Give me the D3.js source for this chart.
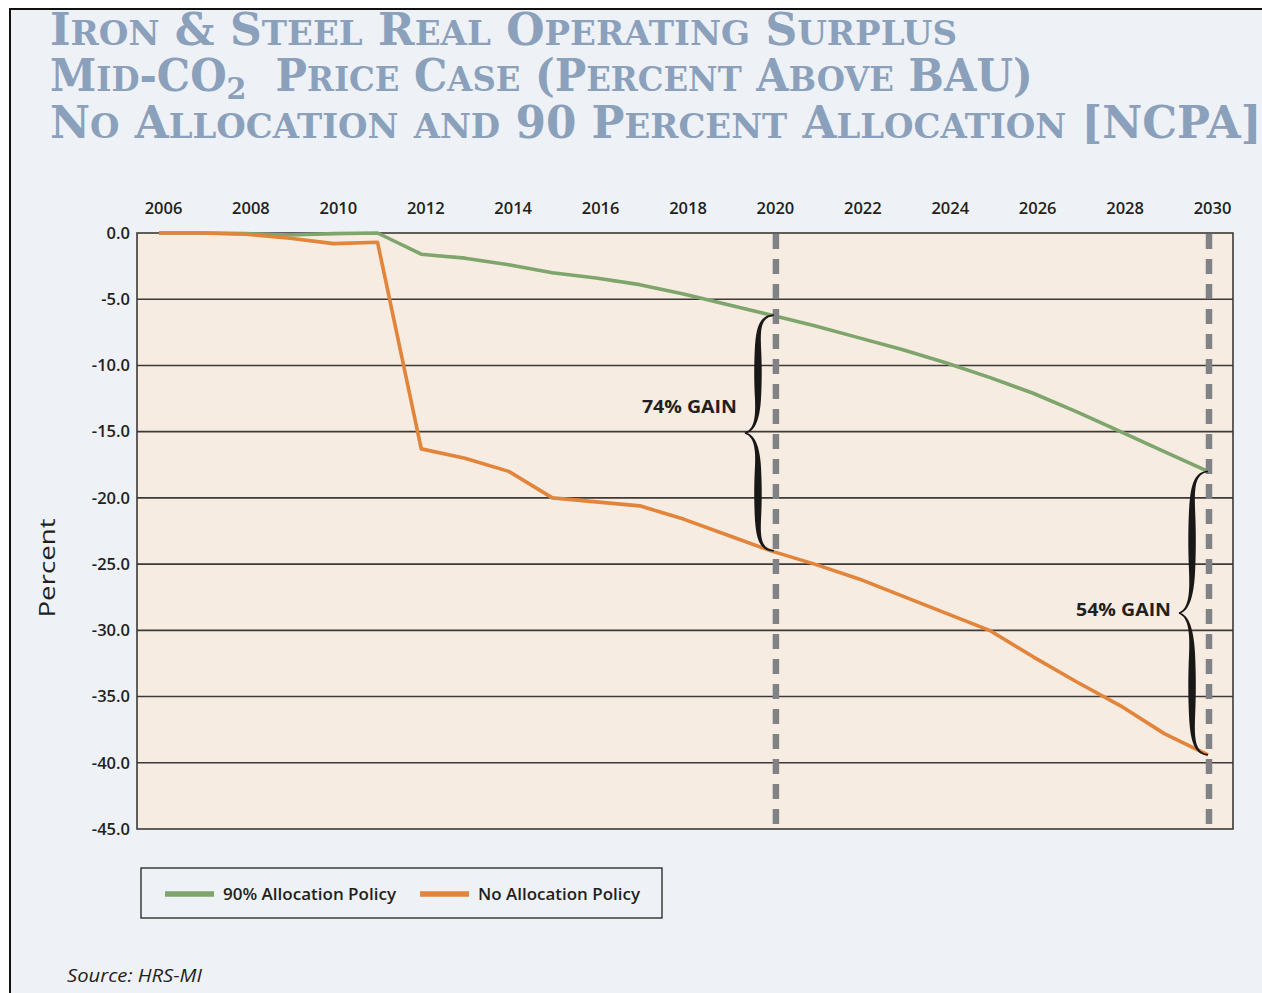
<!DOCTYPE html>
<html><head><meta charset="utf-8">
<script src="https://cdn.jsdelivr.net/npm/d3@7"></script>
<style>html,body{margin:0;padding:0;background:#fff;}svg{display:block}</style>
</head><body>
<svg id="chart" width="1262" height="993"></svg>
<script>
// ---------------- data ----------------
const years = [2006,2007,2008,2009,2010,2011,2012,2013,2014,2015,2016,2017,2018,2019,2020,2021,2022,2023,2024,2025,2026,2027,2028,2029,2030];
const alloc90 = [0,0,-0.05,-0.15,-0.05,0,-1.6,-1.9,-2.4,-3.0,-3.4,-3.9,-4.6,-5.4,-6.2,-7.0,-7.9,-8.8,-9.8,-10.9,-12.1,-13.5,-15.0,-16.5,-18.0];
const noAlloc = [0,0,-0.1,-0.4,-0.8,-0.7,-16.3,-17.0,-18.0,-20.0,-20.3,-20.6,-21.6,-22.8,-24.0,-25.0,-26.1,-27.4,-28.7,-30.0,-32.0,-33.9,-35.7,-37.8,-39.4];
const xTicks = [2006,2008,2010,2012,2014,2016,2018,2020,2022,2024,2026,2028,2030];
const yTicks = [0,-5,-10,-15,-20,-25,-30,-35,-40,-45];
const markerYears = [2020, 2030];
const gainLabels = ["74% GAIN", "54% GAIN"];
const seriesNames = ["90% Allocation Policy", "No Allocation Policy"];
const titleLines = ["Iron & Steel Real Operating Surplus", "Mid-CO|2|  Price Case (Percent Above BAU)", "No Allocation and 90 Percent Allocation [NCPA]"];
const sourceText = "Source: HRS-MI";

// ---------------- setup ----------------
const svg = d3.select("#chart");
const W = 1262, H = 993;
const C = { bg:"#eef2f7", plot:"#f7ece2", ink:"#231f20", grid:"#3d3937", green:"#7ea56c", orange:"#e2843a", dash:"#808285", title:"#8ba0bb" };
const sans = "'Open Sans', 'Noto Sans', sans-serif";

svg.append("rect").attr("width", W).attr("height", H).attr("fill", "#fff");
svg.append("rect").attr("x", 10).attr("y", 9).attr("width", W + 20).attr("height", H + 20)
   .attr("fill", C.bg).attr("stroke", "#111").attr("stroke-width", 2);

// ---------------- title ----------------
const titleBaselines = [45, 91, 138];
const titleWidths = [907, 983, 1212];
titleLines.forEach((line, i) => {
  const t = svg.append("text").attr("x", 0).attr("y", 0)
    .attr("fill", C.title).attr("font-family", "'DejaVu Serif', serif").attr("font-weight", "bold")
    .style("white-space", "pre");
  const parts = line.split("|");
  parts.forEach((p, pi) => {
    if (pi === 1) { // subscript
      t.append("tspan").attr("font-size", 30).attr("dy", 8).text(p);
      return;
    }
    let runs = [];
    for (const ch of p) {
      const small = ch !== ch.toUpperCase();
      if (runs.length && runs[runs.length-1].small === small) runs[runs.length-1].s += ch;
      else runs.push({small, s: ch});
    }
    runs.forEach((r, ri) => {
      const ts = t.append("tspan").attr("font-size", r.small ? 34 : 44).text(r.s.toUpperCase());
      if (pi === 2 && ri === 0) ts.attr("dy", -8);
    });
  });
  const natural = t.node().getComputedTextLength();
  t.attr("transform", `translate(50,${titleBaselines[i]}) scale(${titleWidths[i] / natural},1)`);
});

// ---------------- scales ----------------
const plot = { left: 137, right: 1233, top: 233, bottom: 829 };
const x = d3.scaleLinear().domain([2006, 2030]).range([159, 1208]);
const y = d3.scaleLinear().domain([0, -45]).range([plot.top, plot.bottom]);

svg.append("rect").attr("x", plot.left).attr("y", plot.top)
  .attr("width", plot.right - plot.left).attr("height", plot.bottom - plot.top).attr("fill", C.plot);

// gridlines
svg.append("g").selectAll("line").data(yTicks.filter(d => d !== 0 && d !== -45)).join("line")
  .attr("x1", plot.left).attr("x2", plot.right).attr("y1", d => y(d)).attr("y2", d => y(d))
  .attr("stroke", C.grid).attr("stroke-width", 1.6);

svg.append("rect").attr("x", plot.left).attr("y", plot.top)
  .attr("width", plot.right - plot.left).attr("height", plot.bottom - plot.top)
  .attr("fill", "none").attr("stroke", C.grid).attr("stroke-width", 1.6);

// axes
const gx = svg.append("g").attr("transform", `translate(0,${plot.top})`)
  .call(d3.axisTop(x).tickValues(xTicks).tickSize(0).tickPadding(19).tickFormat(d3.format("d")));
gx.select(".domain").remove();
gx.selectAll("text").attr("dx", 4).attr("fill", C.ink).attr("font-family", sans)
  .attr("font-size", 16.5).attr("font-weight", 600);

const gy = svg.append("g").attr("transform", `translate(${plot.left},0)`)
  .call(d3.axisLeft(y).tickValues(yTicks).tickSize(0).tickPadding(7).tickFormat(d => d.toFixed(1)));
gy.select(".domain").remove();
gy.selectAll("text").attr("fill", C.ink).attr("font-family", sans)
  .attr("font-size", 16.5).attr("font-weight", 600);

svg.append("text").attr("transform", "translate(55,568) rotate(-90)")
  .attr("text-anchor", "middle").attr("fill", C.ink).attr("font-family", sans)
  .attr("font-size", 22).attr("textLength", 99).attr("lengthAdjust", "spacingAndGlyphs").text("Percent");

// ---------------- lines ----------------
const line = d3.line().x((d, i) => x(years[i])).y(d => y(d));
svg.append("path").attr("d", line(alloc90)).attr("fill", "none").attr("stroke", C.green)
  .attr("stroke-width", 3.6).attr("stroke-linejoin", "round");
svg.append("path").attr("d", line(noAlloc)).attr("fill", "none").attr("stroke", C.orange)
  .attr("stroke-width", 3.6).attr("stroke-linejoin", "round");

// dashed marker lines
svg.append("g").selectAll("line").data(markerYears).join("line")
  .attr("x1", d => x(d) + (d === 2020 ? 5 : 1)).attr("x2", d => x(d) + (d === 2020 ? 5 : 1))
  .attr("y1", plot.top + 1).attr("y2", plot.bottom)
  .attr("stroke", C.dash).attr("stroke-width", 6.5).attr("stroke-dasharray", "15,10");

// ---------------- braces ----------------
function cubic(p0, p1, p2, p3, n) {
  const pts = [];
  for (let k = 0; k <= n; k++) {
    const t = k / n, u = 1 - t;
    pts.push([u*u*u*p0[0] + 3*u*u*t*p1[0] + 3*u*t*t*p2[0] + t*t*t*p3[0],
              u*u*u*p0[1] + 3*u*u*t*p1[1] + 3*u*t*t*p2[1] + t*t*t*p3[1]]);
  }
  return pts;
}
function braceHalf(xe, y0, y1, w) {
  const h = y1 - y0, xs = xe - 0.55 * w, xt = xe - w;
  let pts = cubic([xe, y0], [xs + 0.05 * w, y0 + 0.01 * h], [xs, y0 + 0.12 * h], [xs, y0 + 0.3 * h], 20);
  pts = pts.concat(cubic([xs, y0 + 0.3 * h], [xs, y0 + 0.5 * h], [xs, y0 + 0.55 * h], [xs, y0 + 0.7 * h], 12).slice(1));
  pts = pts.concat(cubic([xs, y0 + 0.7 * h], [xs, y0 + 0.9 * h], [xs - 0.15 * w, y1 - 0.02 * h], [xt, y1], 20).slice(1));
  const L = [0];
  for (let k = 1; k < pts.length; k++) L.push(L[k-1] + Math.hypot(pts[k][0]-pts[k-1][0], pts[k][1]-pts[k-1][1]));
  const total = L[L.length-1];
  const left = [], right = [];
  pts.forEach((p, k) => {
    const a = pts[Math.max(0, k-1)], b = pts[Math.min(pts.length-1, k+1)];
    let dx = b[0]-a[0], dy = b[1]-a[1]; const len = Math.hypot(dx, dy) || 1; dx /= len; dy /= len;
    const s = L[k] / total;
    const th = 1.5 + 6.0 * Math.pow(Math.sin(Math.PI * s), 1.3);
    left.push([p[0] - dy * th / 2, p[1] + dx * th / 2]);
    right.push([p[0] + dy * th / 2, p[1] - dx * th / 2]);
  });
  return left.concat(right.reverse());
}
const polyLine = d3.line().curve(d3.curveLinearClosed);
const gainIdx = markerYears.map(yr => years.indexOf(yr));
const labelDy = [-26, -3];
gainIdx.forEach((idx, j) => {
  const xe = x(years[idx]) + (j === 0 ? 3 : 0);
  const yt = y(alloc90[idx]), yb = y(noAlloc[idx]), ym = (yt + yb) / 2, w = 29;
  svg.append("path").attr("d", polyLine(braceHalf(xe, yt, ym, w))).attr("fill", "#1a1717");
  svg.append("path").attr("d", polyLine(braceHalf(xe, yb, ym, w))).attr("fill", "#1a1717");
  svg.append("text").attr("x", xe - w - 8).attr("y", ym + labelDy[j] + 6)
    .attr("text-anchor", "end").attr("fill", C.ink).attr("font-family", sans)
    .attr("font-size", 18).attr("font-weight", 700).attr("textLength", 95).attr("lengthAdjust", "spacingAndGlyphs")
    .text(gainLabels[j]);
});

// ---------------- legend ----------------
const lg = svg.append("g");
lg.append("rect").attr("x", 141).attr("y", 868).attr("width", 521).attr("height", 50)
  .attr("fill", "none").attr("stroke", C.ink).attr("stroke-width", 1.3);
const legendItems = [
  { name: seriesNames[0], color: C.green, x0: 165, tx: 223, tw: 173 },
  { name: seriesNames[1], color: C.orange, x0: 420, tx: 478, tw: 162 }
];
legendItems.forEach(it => {
  lg.append("line").attr("x1", it.x0).attr("x2", it.x0 + 49).attr("y1", 894).attr("y2", 894)
    .attr("stroke", it.color).attr("stroke-width", 5.5);
  lg.append("text").attr("x", it.tx).attr("y", 900).attr("fill", C.ink).attr("font-family", sans)
    .attr("font-size", 17).attr("font-weight", 600).attr("textLength", it.tw).attr("lengthAdjust", "spacingAndGlyphs").text(it.name);
});

// ---------------- source ----------------
svg.append("text").attr("x", 67).attr("y", 982).attr("fill", C.ink).attr("font-family", sans)
  .attr("font-style", "italic").attr("font-size", 19).attr("textLength", 135)
  .attr("lengthAdjust", "spacingAndGlyphs").text(sourceText);
</script>
</body></html>
